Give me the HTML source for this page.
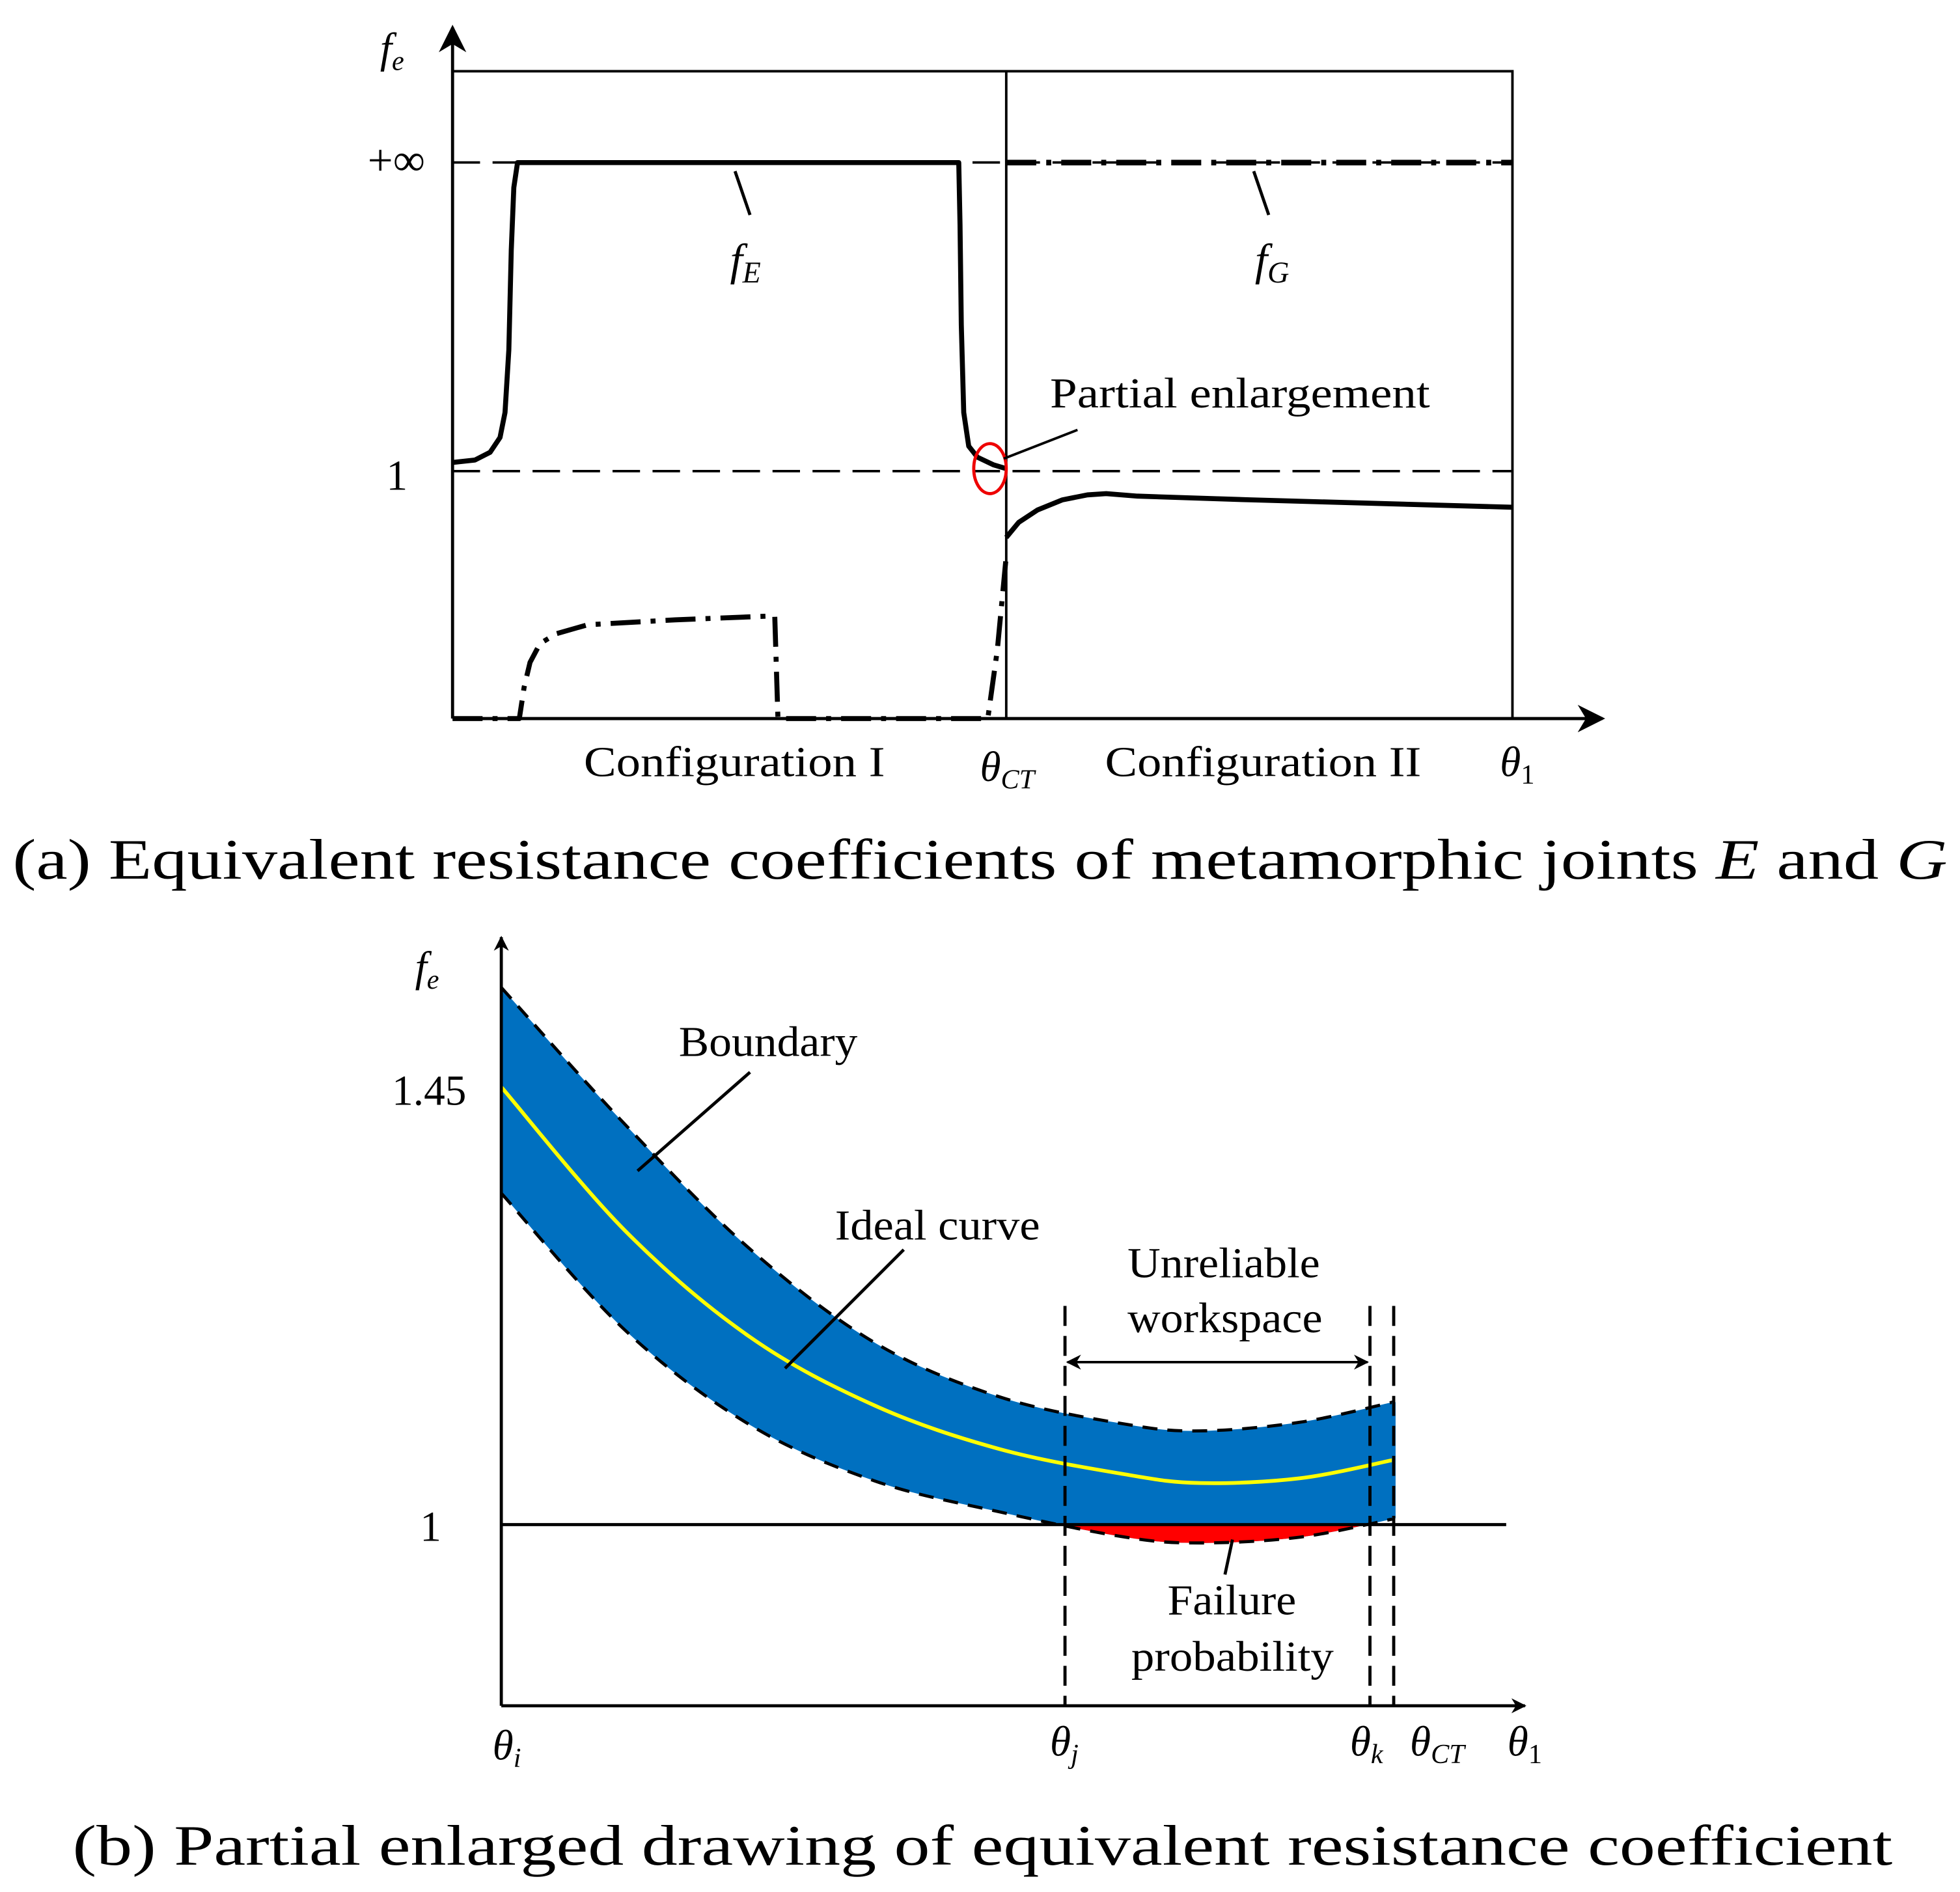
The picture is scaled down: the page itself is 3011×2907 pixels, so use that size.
<!DOCTYPE html>
<html><head><meta charset="utf-8"><style>
html,body{margin:0;padding:0;background:#fff;}
svg{display:block;}
text{font-family:"Liberation Serif",serif;fill:#000;}
</style></head><body>
<svg id="fig" xmlns="http://www.w3.org/2000/svg" width="3011" height="2907" viewBox="0 0 1568 1514">
<defs>
<marker id="arrBig" viewBox="0 0 10 10" refX="9" refY="5" markerWidth="30" markerHeight="22" orient="auto" markerUnits="userSpaceOnUse"><path d="M0,0 L10,5 L0,10 L3,5 Z"/></marker>
<marker id="arrS" viewBox="0 0 10 10" refX="9" refY="5" markerWidth="16" markerHeight="12" orient="auto-start-reverse" markerUnits="userSpaceOnUse"><path d="M0,0 L10,5 L0,10 L3,5 Z"/></marker>
<clipPath id="below1"><rect x="401" y="1220" width="800" height="100"/></clipPath>
</defs>

<g>
<line x1="362" y1="575" x2="362" y2="22" stroke="#000" stroke-width="2.5" marker-end="url(#arrBig)"/>
<line x1="362" y1="575" x2="1282" y2="575" stroke="#000" stroke-width="2.5" marker-end="url(#arrBig)"/>
<polyline points="362,57 1210,57 1210,575" fill="none" stroke="#000" stroke-width="2"/>
<line x1="805" y1="57" x2="805" y2="575" stroke="#000" stroke-width="2"/>
<line x1="362" y1="130" x2="1210" y2="130" stroke="#000" stroke-width="2" stroke-dasharray="22,10"/>
<line x1="362" y1="377" x2="1210" y2="377" stroke="#000" stroke-width="2" stroke-dasharray="22,10"/>
<g id="aSeries"></g>
<ellipse cx="792" cy="375" rx="13" ry="20" fill="none" stroke="#e00" stroke-width="2.5"/>
<line x1="803" y1="367" x2="862" y2="344" stroke="#000" stroke-width="2"/>
<text x="840" y="326" font-size="34" textLength="304" lengthAdjust="spacingAndGlyphs">Partial enlargement</text>
<line x1="588" y1="137" x2="600" y2="172" stroke="#000" stroke-width="2.5"/>
<line x1="1003" y1="137" x2="1015" y2="172" stroke="#000" stroke-width="2.5"/>
<text x="584" y="220" font-size="36" font-style="italic">f<tspan font-size="24" dy="6">E</tspan></text>
<text x="1004" y="220" font-size="36" font-style="italic">f<tspan font-size="24" dy="6">G</tspan></text>
<text x="304" y="50" font-size="34" font-style="italic">f<tspan font-size="22" dy="6">e</tspan></text>
<text x="340" y="140" font-size="36" text-anchor="end">+∞</text>
<text x="326" y="392" font-size="34" text-anchor="end">1</text>
<text x="467" y="621" font-size="34" textLength="241" lengthAdjust="spacingAndGlyphs">Configuration I</text>
<text x="784" y="625" font-size="34" font-style="italic">θ<tspan font-size="22" dy="6">CT</tspan></text>
<text x="884" y="621" font-size="34" textLength="253" lengthAdjust="spacingAndGlyphs">Configuration II</text>
<text x="1200" y="621" font-size="34" font-style="italic">θ<tspan font-size="22" dy="6" font-style="normal">1</tspan></text>
<text x="10" y="703" font-size="46" textLength="1548" lengthAdjust="spacingAndGlyphs">(a) Equivalent resistance coefficients of metamorphic joints <tspan font-style="italic">E</tspan> and <tspan font-style="italic">G</tspan></text>
</g>

<g>
<path id="bandPath" fill="#0070c0" stroke="none"/>
<path id="failPath" fill="#ff0000" stroke="none" clip-path="url(#below1)"/>
<path id="upperPath" fill="none" stroke="#000" stroke-width="2.5" stroke-dasharray="12,8"/>
<path id="lowerPath" fill="none" stroke="#000" stroke-width="2.5" stroke-dasharray="12,8"/>
<path id="idealPath" fill="none" stroke="#ffff00" stroke-width="3"/>
<line x1="1115" y1="1122" x2="1115" y2="1215" stroke="#0070c0" stroke-width="3"/>
<line x1="401" y1="1365" x2="401" y2="750" stroke="#000" stroke-width="2.5" marker-end="url(#arrS)"/>
<line x1="401" y1="1365" x2="1220" y2="1365" stroke="#000" stroke-width="2.5" marker-end="url(#arrS)"/>
<line x1="401" y1="1220" x2="1205" y2="1220" stroke="#000" stroke-width="2.5"/>
<line x1="852" y1="1045" x2="852" y2="1365" stroke="#000" stroke-width="2.5" stroke-dasharray="16,8"/>
<line x1="1096" y1="1045" x2="1096" y2="1365" stroke="#000" stroke-width="2.5" stroke-dasharray="16,8"/>
<line x1="1115" y1="1045" x2="1115" y2="1365" stroke="#000" stroke-width="2.5" stroke-dasharray="16,8"/>
<line x1="854" y1="1090" x2="1094" y2="1090" stroke="#000" stroke-width="2" marker-start="url(#arrS)" marker-end="url(#arrS)"/>
<text x="902" y="1022" font-size="34" textLength="154" lengthAdjust="spacingAndGlyphs">Unreliable</text>
<text x="902" y="1066" font-size="34" textLength="156" lengthAdjust="spacingAndGlyphs">workspace</text>
<line x1="600" y1="858" x2="510" y2="937" stroke="#000" stroke-width="2.5"/>
<text x="543" y="845" font-size="34" textLength="143" lengthAdjust="spacingAndGlyphs">Boundary</text>
<line x1="723" y1="1000" x2="628" y2="1095" stroke="#000" stroke-width="2.5"/>
<text x="668" y="992" font-size="34" textLength="164" lengthAdjust="spacingAndGlyphs">Ideal curve</text>
<line x1="986" y1="1232" x2="980" y2="1260" stroke="#000" stroke-width="2.5"/>
<text x="934" y="1292" font-size="34" textLength="103" lengthAdjust="spacingAndGlyphs">Failure</text>
<text x="905" y="1337" font-size="34" textLength="162" lengthAdjust="spacingAndGlyphs">probability</text>
<text x="332" y="785" font-size="34" font-style="italic">f<tspan font-size="22" dy="6">e</tspan></text>
<text x="373" y="884" font-size="34" text-anchor="end">1.45</text>
<text x="353" y="1233" font-size="34" text-anchor="end">1</text>
<text x="394" y="1408" font-size="34" font-style="italic">θ<tspan font-size="22" dy="6">i</tspan></text>
<text x="840" y="1405" font-size="34" font-style="italic">θ<tspan font-size="22" dy="6">j</tspan></text>
<text x="1080" y="1405" font-size="34" font-style="italic">θ<tspan font-size="22" dy="6">k</tspan></text>
<text x="1128" y="1405" font-size="34" font-style="italic">θ<tspan font-size="22" dy="6">CT</tspan></text>
<text x="1206" y="1405" font-size="34" font-style="italic">θ<tspan font-size="22" dy="6" font-style="normal">1</tspan></text>
<text x="58" y="1492" font-size="46" textLength="1456" lengthAdjust="spacingAndGlyphs">(b) Partial enlarged drawing of equivalent resistance coefficient</text>
</g>
</svg>
<script>
// Panel (a) data: x in 0..100 units, v where 1 = unity level, 2.247 = +inf level
var fE1X = [0, 2.12, 3.54, 4.48, 4.95, 5.31, 5.54, 5.78, 6.13, 47.76, 47.88, 48.0, 48.23, 48.7, 49.53, 51.06, 52.24];
var fE1V = [1.035, 1.045, 1.076, 1.136, 1.237, 1.490, 1.894, 2.146, 2.247, 2.247, 1.995, 1.591, 1.237, 1.101, 1.056, 1.025, 1.010];
var fE2X = [52.24, 53.42, 55.19, 57.55, 59.9, 61.67, 64.62, 75.2, 100];
var fE2V = [0.732, 0.793, 0.843, 0.884, 0.904, 0.909, 0.899, 0.884, 0.854];
var fG1X = [0, 6.3, 6.75, 7.31, 8.25, 9.79, 12.74, 21.0, 29.8, 30.4, 30.7, 50.5, 51.4, 52.24];
var fG1V = [0, 0, 0.126, 0.227, 0.303, 0.343, 0.379, 0.399, 0.414, 0.414, 0, 0, 0.278, 0.657];
var fG2X = [52.24, 100];
var fG2V = [2.247, 2.247];

// Panel (b) data: x in 0..100 units, y in fe value
var bX = [0, 12.4, 24.9, 37.4, 49.9, 62.4, 69.9, 79.9, 89.25];
var upperV = [1.556, 1.414, 1.285, 1.188, 1.132, 1.104, 1.097, 1.106, 1.127];
var lowerV = [1.343, 1.201, 1.103, 1.045, 1.013, 0.987, 0.981, 0.987, 1.006];
var idealV = [1.453, 1.304, 1.194, 1.123, 1.078, 1.052, 1.043, 1.048, 1.067];

function ax(x){ return 362 + x * 8.48; }
function ay(v){ return 575 - v * 198; }
function bx(x){ return 401 + x * 8; }
function by(v){ return 1220 - (v - 1) * 773; }

var NS = "http://www.w3.org/2000/svg";
var g = document.getElementById("aSeries");
function poly(xs, vs, dash, w, name){
  var p = document.createElementNS(NS, "polyline");
  p.setAttribute("points", xs.map(function(x, i){ return ax(x) + "," + ay(vs[i]); }).join(" "));
  p.setAttribute("fill", "none");
  p.setAttribute("stroke", "#000");
  p.setAttribute("stroke-width", w);
  p.setAttribute("stroke-linejoin", "round");
  if (dash) p.setAttribute("stroke-dasharray", dash);
  
  
  g.appendChild(p);
}
poly(fG1X, fG1V, "24,8,4,8", 4, "fG-config-i");
poly(fG2X, fG2V, "24,8,4,8", 4.5, "fG-config-ii");
poly(fE1X, fE1V, null, 4, "fE-config-i");
poly(fE2X, fE2V, null, 4, "fE-config-ii");

function pts(vs){ return bX.map(function(x, i){ return [bx(x), by(vs[i])]; }); }
function smooth(p, move){
  var d = (move ? "M" : "L") + p[0][0] + "," + p[0][1];
  for (var i = 0; i < p.length - 1; i++){
    var p0 = p[i-1] || p[i], p1 = p[i], p2 = p[i+1], p3 = p[i+2] || p2;
    var c1x = p1[0] + (p2[0]-p0[0])/6, c1y = p1[1] + (p2[1]-p0[1])/6;
    var c2x = p2[0] - (p3[0]-p1[0])/6, c2y = p2[1] - (p3[1]-p1[1])/6;
    d += " C" + c1x + "," + c1y + " " + c2x + "," + c2y + " " + p2[0] + "," + p2[1];
  }
  return d;
}
var up = pts(upperV), lo = pts(lowerV), id = pts(idealV);
document.getElementById("upperPath").setAttribute("d", smooth(up, true));
document.getElementById("lowerPath").setAttribute("d", smooth(lo, true));
document.getElementById("idealPath").setAttribute("d", smooth(id, true));
document.getElementById("bandPath").setAttribute("d", smooth(up, true) + " " + smooth(lo.slice().reverse(), false) + " Z");
var last = lo[lo.length-1];
document.getElementById("failPath").setAttribute("d", smooth(lo, true) + " L" + last[0] + "," + by(1) + " L" + lo[0][0] + "," + by(1) + " Z");
</script>
</body></html>
